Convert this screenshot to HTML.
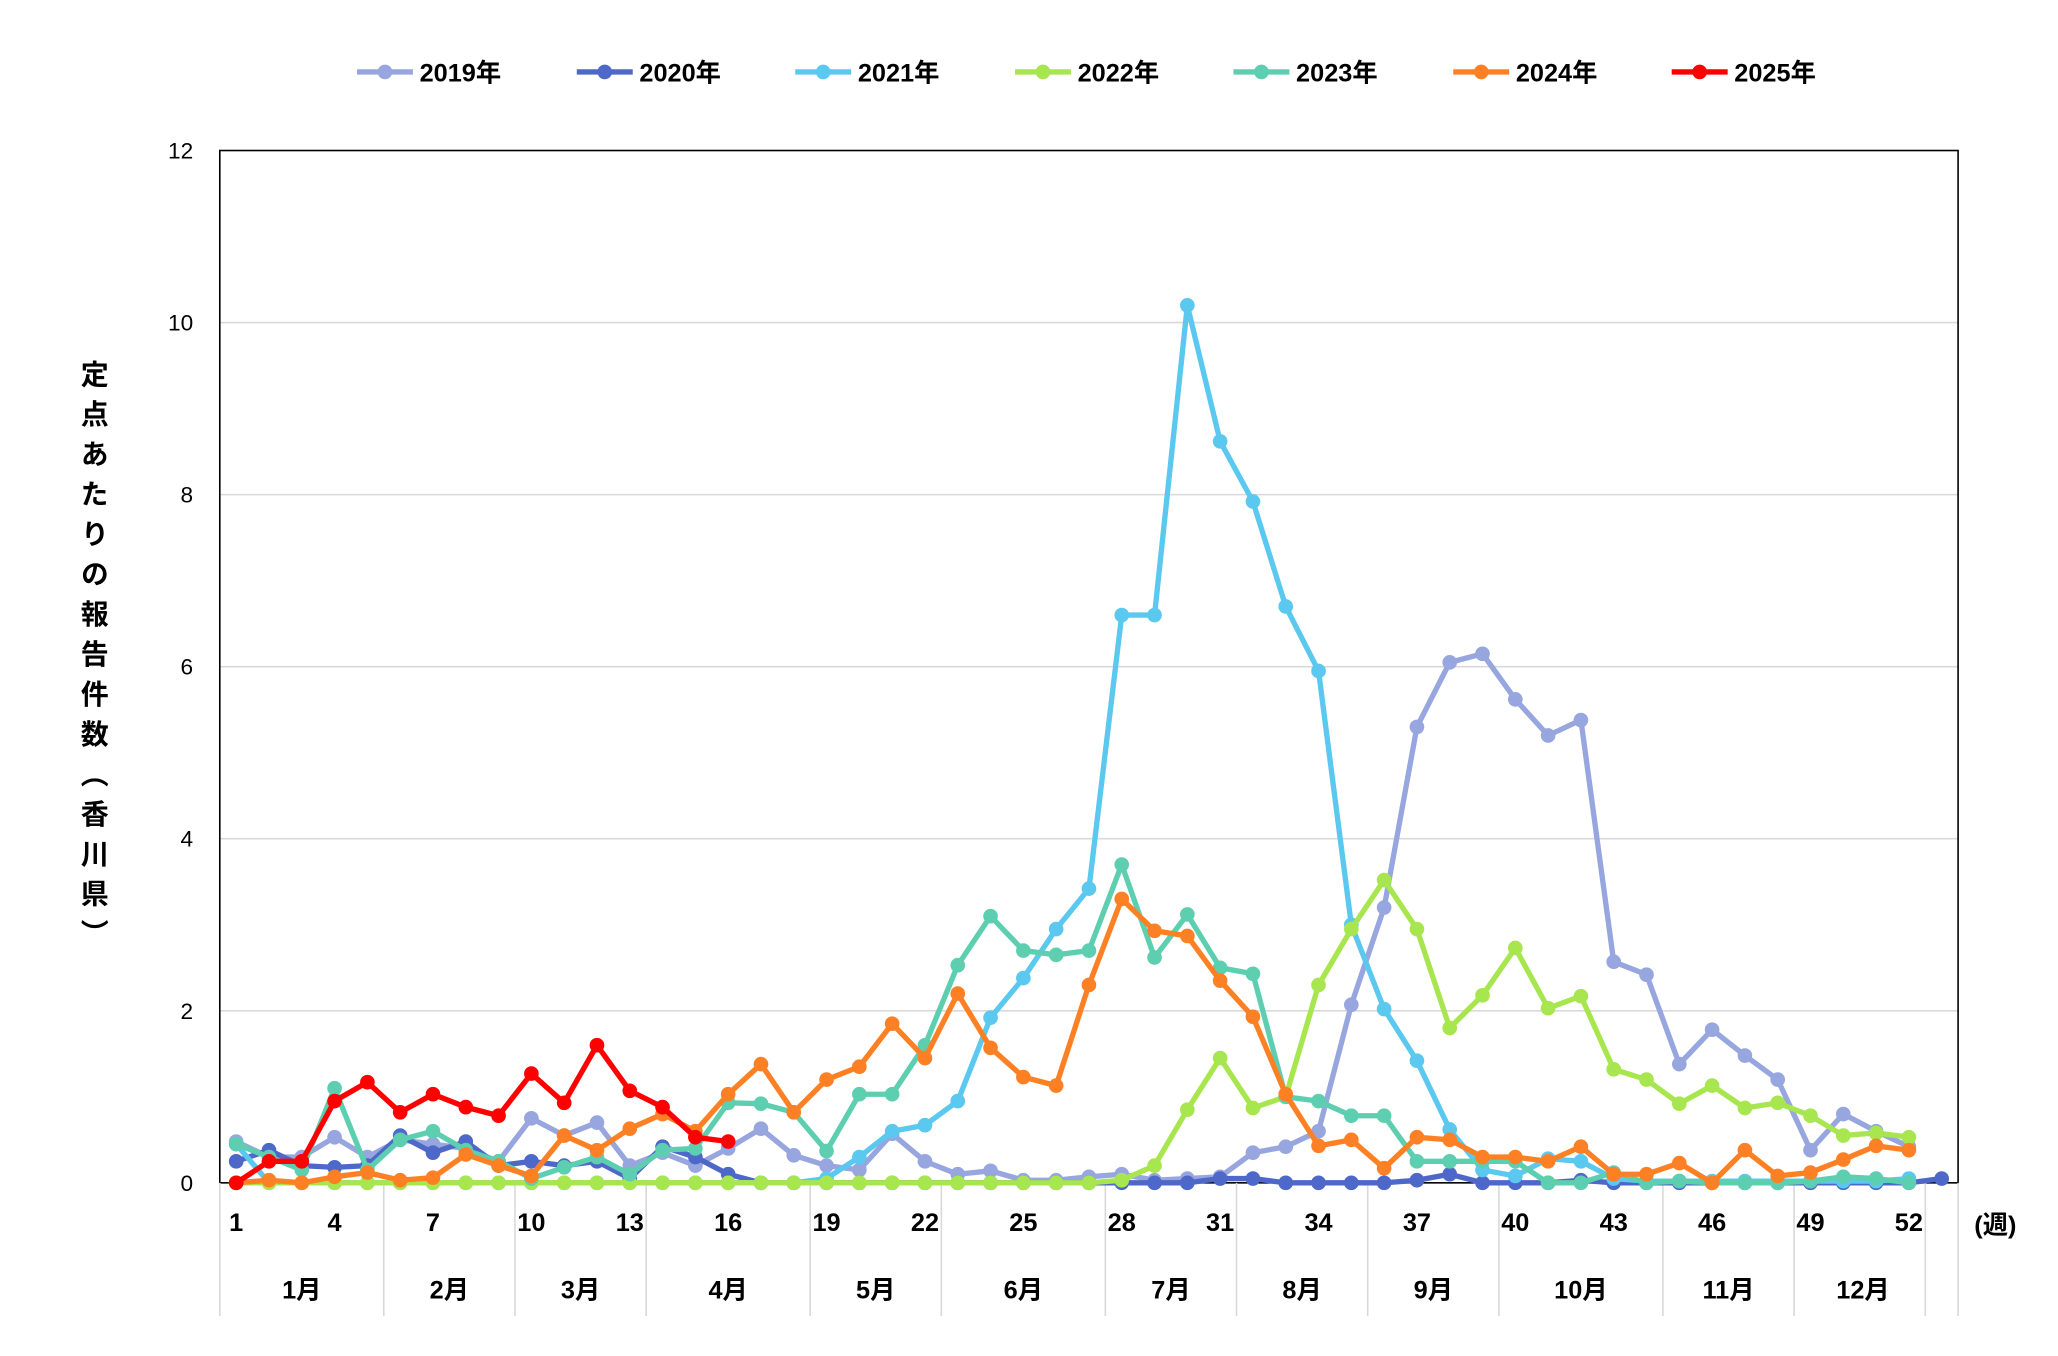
<!DOCTYPE html>
<html><head><meta charset="utf-8"><style>
html,body{margin:0;padding:0;background:#fff;}
svg{display:block;font-family:"Liberation Sans","Noto Sans CJK JP",sans-serif;}
</style></head><body>
<svg id="chart" width="2058" height="1356" viewBox="0 0 1545 1018" xmlns="http://www.w3.org/2000/svg">
<rect x="0" y="0" width="1545" height="1018" fill="#fff"/>
<g id="grid"></g>
<g id="ylabels" font-size="17" fill="#000" text-anchor="end"></g>
<rect x="165" y="113" width="1305" height="775" fill="none" stroke="#000" stroke-width="1.2"/>
<g id="xaxis"></g>
<g id="series"></g>
<g id="legend"></g>
<text x="1498" y="926" font-size="19" font-weight="bold" text-anchor="middle">(週)</text>
<text x="70" y="270" font-size="21" font-weight="bold" style="writing-mode:vertical-rl;letter-spacing:9px" text-anchor="start">定点あたりの報告件数（香川県）</text>
</svg>
<script>
const years = ["2019年","2020年","2021年","2022年","2023年","2024年","2025年"];
const colors = ["#97a6de","#4d68c8","#5bc8f0","#a8e64f","#5dcfb0","#fd8124","#ff0000"];
const yTicks = [0,2,4,6,8,10,12];
const weekTicks = [1,4,7,10,13,16,19,22,25,28,31,34,37,40,43,46,49,52];
const months = ["1月","2月","3月","4月","5月","6月","7月","8月","9月","10月","11月","12月"];
const monthBounds = [0,5,9,13,18,22,27,31,35,39,44,48,52];
const s2019 = [0.48,0.3,0.3,0.53,0.3,0.5,0.45,0.4,0.25,0.75,0.55,0.7,0.2,0.35,0.2,0.4,0.63,0.32,0.2,0.15,0.57,0.25,0.1,0.14,0.03,0.03,0.07,0.1,0.03,0.05,0.07,0.35,0.42,0.6,2.07,3.2,5.3,6.05,6.15,5.62,5.2,5.38,2.57,2.42,1.38,1.78,1.48,1.2,0.38,0.8,0.6,0.42];
const s2020 = [0.25,0.38,0.2,0.18,0.2,0.55,0.35,0.48,0.2,0.25,0.2,0.25,0.05,0.42,0.3,0.1,0,0,0,0,0,0,0,0,0,0,0,0,0,0,0.05,0.05,0,0,0,0,0.03,0.1,0,0,0,0.03,0,0,0,0,0,0,0,0,0,0,0.05];
const s2021 = [0.45,0,0,0,0,0,0,0,0,0,0,0,0,0,0,0,0,0,0.05,0.3,0.6,0.67,0.95,1.92,2.38,2.95,3.42,6.6,6.6,10.2,8.62,7.92,6.7,5.95,3.0,2.02,1.42,0.62,0.15,0.08,0.28,0.25,0.05,0.02,0.02,0.02,0.02,0.02,0.02,0.02,0.02,0.05];
const s2022 = [0,0,0,0,0,0,0,0,0,0,0,0,0,0,0,0,0,0,0,0,0,0,0,0,0,0,0,0.03,0.2,0.85,1.45,0.87,1.0,2.3,2.95,3.52,2.95,1.8,2.18,2.73,2.03,2.17,1.32,1.2,0.92,1.13,0.87,0.93,0.78,0.55,0.58,0.53];
const s2023 = [0.45,0.3,0.15,1.1,0.15,0.5,0.6,0.38,0.25,0.05,0.18,0.3,0.1,0.38,0.4,0.93,0.92,0.82,0.37,1.03,1.03,1.6,2.53,3.1,2.7,2.65,2.7,3.7,2.62,3.12,2.5,2.43,1.0,0.95,0.78,0.78,0.25,0.25,0.25,0.25,0,0,0.12,0,0.02,0,0,0,0.02,0.07,0.05,0];
const s2024 = [0,0.03,0,0.07,0.12,0.03,0.06,0.33,0.2,0.08,0.55,0.38,0.63,0.8,0.6,1.03,1.38,0.82,1.2,1.35,1.85,1.45,2.2,1.57,1.23,1.13,2.3,3.3,2.93,2.87,2.35,1.93,1.03,0.43,0.5,0.17,0.53,0.5,0.3,0.3,0.25,0.42,0.1,0.1,0.23,0,0.38,0.08,0.12,0.27,0.43,0.38];
const s2025 = [0,0.25,0.25,0.95,1.17,0.82,1.03,0.88,0.78,1.27,0.93,1.6,1.07,0.88,0.53,0.48];
const allSeries = [s2019,s2020,s2021,s2022,s2023,s2024,s2025];

const NS="http://www.w3.org/2000/svg";
const X0=165,X1=1470,Y0=888,Y1=113,NW=53,YMAX=12;
const bw=(X1-X0)/NW;
function xw(w){return X0+(w-0.5)*bw;}
function yv(v){return Y0-(v/YMAX)*(Y0-Y1);}
function mk(tag,attrs,parent){const e=document.createElementNS(NS,tag);for(const k in attrs)e.setAttribute(k,attrs[k]);parent.appendChild(e);return e;}

const grid=document.getElementById('grid'), yl=document.getElementById('ylabels');
yTicks.forEach(t=>{
  if(t>0&&t<YMAX){const l=mk('line',{x1:X0,x2:X1,y1:yv(t),y2:yv(t),stroke:'#d9d9d9','stroke-width':1.2},grid);
  
  }
  const tx=mk('text',{x:145,y:yv(t)+6},yl);tx.textContent=t;
  
  
});
const xa=document.getElementById('xaxis');
monthBounds.forEach(b=>{
  const l=mk('line',{x1:X0+b*bw,x2:X0+b*bw,y1:Y0,y2:988,stroke:'#d9d9d9','stroke-width':1.2},xa);
  
  
});
const lr=mk('line',{x1:X1,x2:X1,y1:Y0,y2:988,stroke:'#d9d9d9','stroke-width':1.2},xa);


weekTicks.forEach(w=>{
  const t=mk('text',{x:xw(w),y:924,'font-size':19,'font-weight':'bold','text-anchor':'middle'},xa);t.textContent=w;
  
  
});
months.forEach((m,i)=>{
  const cx=X0+(monthBounds[i]+monthBounds[i+1])/2*bw+(i==11?bw*0.1:0);
  const t=mk('text',{x:cx,y:975,'font-size':19,'font-weight':'bold','text-anchor':'middle'},xa);t.textContent=m;
  
  
});
const sg=document.getElementById('series');
allSeries.forEach((d,si)=>{
  const g=mk('g',{},sg);
  
  
  const pts=d.map((v,i)=>xw(i+1)+','+yv(v)).join(' ');
  const pl=mk('polyline',{points:pts,fill:'none',stroke:colors[si],'stroke-width':4,'stroke-linejoin':'round'},g);
  
  
  d.forEach((v,i)=>{
    const c=mk('circle',{cx:xw(i+1),cy:yv(v),r:5.5,fill:colors[si]},g);
    
    
  });
});
const lg=document.getElementById('legend');
const lx=[268,433,597,762,926,1091,1255];
years.forEach((y,i)=>{
  const g=mk('g',{},lg);
  
  
  mk('line',{x1:lx[i],x2:lx[i]+42,y1:54,y2:54,stroke:colors[i],'stroke-width':4},g);
  mk('circle',{cx:lx[i]+21,cy:54,r:5.5,fill:colors[i]},g);
  const t=mk('text',{x:lx[i]+47,y:61,'font-size':19,'font-weight':'bold'},g);t.textContent=y;
});
</script>
</body></html>
